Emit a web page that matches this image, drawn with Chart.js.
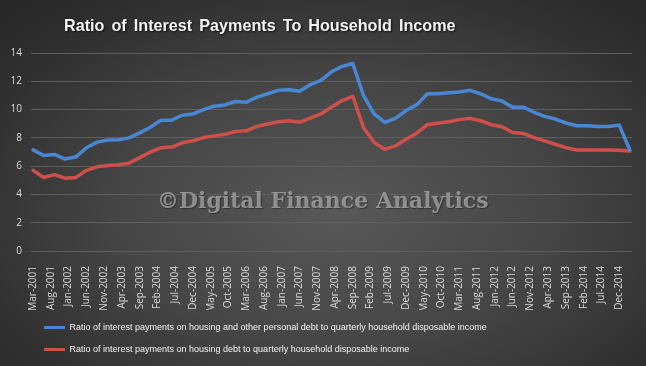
<!DOCTYPE html>
<html>
<head>
<meta charset="utf-8">
<script src="https://cdn.jsdelivr.net/npm/chart.js@4.4.1/dist/chart.umd.min.js"></script>
<style>
  html, body { margin: 0; padding: 0; background: #2a2a2a; }
  #wrap {
    position: relative; width: 646px; height: 366px; overflow: hidden;
    background: radial-gradient(ellipse 72% 78% at 52% 58%, #585858 0%, #464646 45%, #303030 82%, #272727 100%);
  }
  #chart { position: absolute; left: 0; top: 0; }
  #title {
    position: absolute; left: 64px; top: 16px; white-space: nowrap;
    font: bold 16.2px "Liberation Sans", sans-serif;
    word-spacing: 2.5px;
    color: #f4f4f4; text-shadow: 1px 1px 2px #111;
  }
  #mark {
    position: absolute; left: 157px; top: 187px; white-space: nowrap;
    font: bold 22px "DejaVu Serif", serif;
    color: rgba(196, 196, 196, 0.62); text-shadow: 1px 1px 1px rgba(0,0,0,0.35);
    pointer-events: none;
  }
</style>
</head>
<body>
<div id="wrap">
  <canvas id="chart" width="646" height="366"></canvas>
  <div id="title">Ratio of Interest Payments To Household Income</div>
  <div id="mark">©Digital Finance Analytics</div>
</div>
<script>
// quarterly observations, Mar-2001 .. Mar-2015
const quarters = [];
for (let y = 2001; y <= 2015; y++) {
  for (const m of ['Mar', 'Jun', 'Sep', 'Dec']) {
    if (y === 2015 && m !== 'Mar') break;
    quarters.push(m + '-' + y);
  }
}

// housing and other personal debt
const allDebt = [
  7.15, 6.75, 6.83, 6.5, 6.64, 7.3, 7.7, 7.85, 7.87, 8.0,
  8.35, 8.75, 9.25, 9.25, 9.6, 9.69, 10.0, 10.24, 10.33, 10.57,
  10.52, 10.88, 11.12, 11.36, 11.4, 11.29, 11.76, 12.07, 12.67, 13.05,
  13.26, 11.0, 9.69, 9.1, 9.38, 9.93, 10.33, 11.12, 11.12, 11.19,
  11.24, 11.36, 11.12, 10.76, 10.6, 10.17, 10.17, 9.81, 9.52, 9.33,
  9.05, 8.86, 8.86, 8.81, 8.81, 8.9, 7.14
];

// housing debt only
const housingDebt = [
  5.7, 5.2, 5.4, 5.15, 5.2, 5.7, 5.95, 6.05, 6.1, 6.2,
  6.6, 7.0, 7.3, 7.35, 7.65, 7.79, 8.02, 8.14, 8.26, 8.45,
  8.5, 8.81, 8.98, 9.14, 9.21, 9.1, 9.4, 9.69, 10.17, 10.64,
  10.93, 8.74, 7.67, 7.19, 7.43, 7.9, 8.33, 8.93, 9.05, 9.14,
  9.29, 9.38, 9.21, 8.93, 8.79, 8.38, 8.31, 8.02, 7.79, 7.55,
  7.31, 7.14, 7.14, 7.14, 7.14, 7.12, 7.07
];

const tickLabels = [
  'Mar-2001', 'Aug-2001', 'Jan-2002', 'Jun-2002', 'Nov-2002', 'Apr-2003', 'Sep-2003',
  'Feb-2004', 'Jul-2004', 'Dec-2004', 'May-2005', 'Oct-2005', 'Mar-2006', 'Aug-2006',
  'Jan-2007', 'Jun-2007', 'Nov-2007', 'Apr-2008', 'Sep-2008', 'Feb-2009', 'Jul-2009',
  'Dec-2009', 'May-2010', 'Oct-2010', 'Mar-2011', 'Aug-2011', 'Jan-2012', 'Jun-2012',
  'Nov-2012', 'Apr-2013', 'Sep-2013', 'Feb-2014', 'Jul-2014', 'Dec-2014'
];

const seriesNames = [
  'Ratio of interest payments on housing and other personal debt to quarterly household disposable income',
  'Ratio of interest payments on housing debt to quarterly household disposable income'
];

const MONTHS = ['Jan', 'Feb', 'Mar', 'Apr', 'May', 'Jun', 'Jul', 'Aug', 'Sep', 'Oct', 'Nov', 'Dec'];

// months since Mar-2001
function monthIndex(label) {
  const [m, y] = label.split('-');
  return (Number(y) - 2001) * 12 + MONTHS.indexOf(m) - 2;
}

const labelAt = {};
tickLabels.forEach(l => { labelAt[monthIndex(l)] = l; });

const tickFont = { family: '"Open Sans", sans-serif', size: 10 };

new Chart(document.getElementById('chart').getContext('2d'), {
  type: 'line',
  data: {
    datasets: [
      {
        label: seriesNames[0],
        data: quarters.map((q, i) => ({ x: monthIndex(q), y: allDebt[i] })),
        borderColor: '#4a87d2',
        backgroundColor: '#4a87d2',
        borderWidth: 3.5
      },
      {
        label: seriesNames[1],
        data: quarters.map((q, i) => ({ x: monthIndex(q), y: housingDebt[i] })),
        borderColor: '#cf4f4b',
        backgroundColor: '#cf4f4b',
        borderWidth: 3.5
      }
    ]
  },
  options: {
    responsive: false,
    animation: false,
    devicePixelRatio: 1,
    layout: { padding: { top: 53, right: 14, bottom: 2, left: 0 } },
    elements: {
      point: { radius: 0 },
      line: { tension: 0, borderCapStyle: 'round', borderJoinStyle: 'round' }
    },
    scales: {
      x: {
        type: 'linear',
        min: -0.6,
        max: 168.6,
        grid: { display: false },
        border: { display: false },
        afterBuildTicks: axis => { axis.ticks = tickLabels.map(l => ({ value: monthIndex(l) })); },
        afterFit: axis => { axis.height = 59; },
        ticks: {
          autoSkip: false,
          minRotation: 90,
          maxRotation: 90,
          padding: 7,
          color: '#d9d9d9',
          font: tickFont,
          callback: v => labelAt[v] || ''
        }
      },
      y: {
        min: 0,
        max: 14,
        grid: { color: '#5e5e5e', lineWidth: 1, drawTicks: false },
        border: { display: false },
        afterFit: axis => { axis.width = 31; },
        ticks: { stepSize: 2, padding: 9, color: '#d9d9d9', font: tickFont }
      }
    },
    plugins: {
      tooltip: { enabled: false },
      legend: {
        position: 'bottom',
        align: 'start',
        fullSize: false,
        labels: {
          color: '#f2f2f2',
          font: { family: '"Liberation Sans", sans-serif', size: 9 },
          boxWidth: 21,
          boxHeight: 3,
          padding: 13,
          generateLabels: chart => chart.data.datasets.map((ds, i) => ({
            text: ds.label,
            fillStyle: ds.borderColor,
            strokeStyle: ds.borderColor,
            lineWidth: 0,
            fontColor: '#f2f2f2',
            datasetIndex: i,
            hidden: false
          }))
        }
      }
    }
  }
});
</script>
</body>
</html>
